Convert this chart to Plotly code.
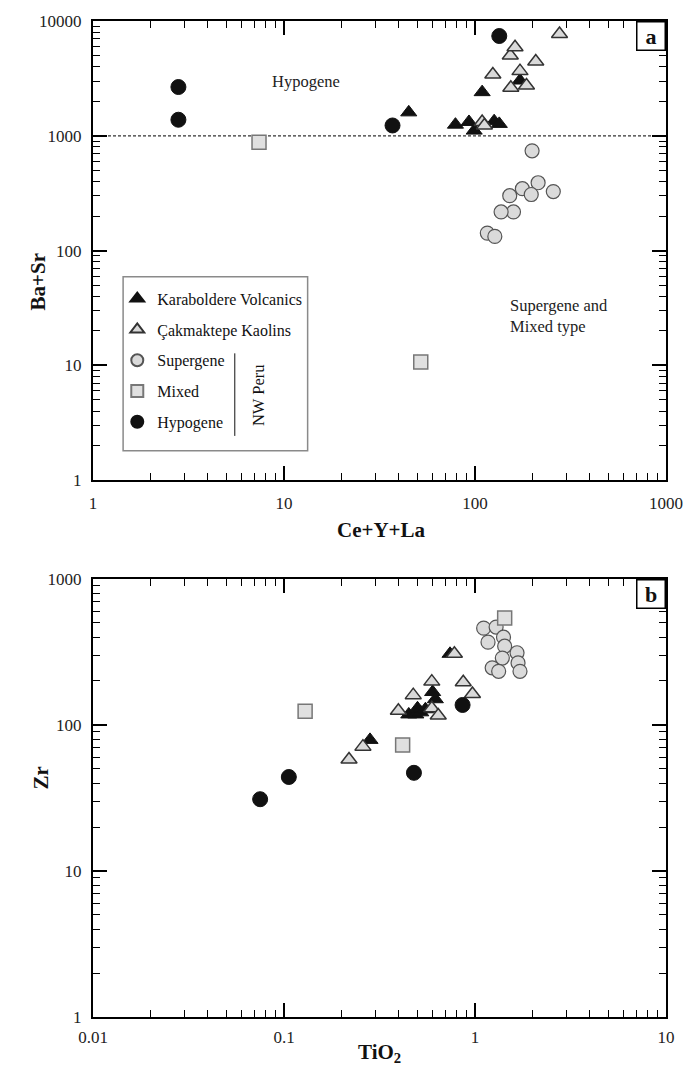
import math
import plotly.graph_objects as go

# ---------------- data ----------------
# Panel a: Ce+Y+La (x) vs Ba+Sr (y)
kara_a_x = [45, 79, 93, 99, 109, 126, 134, 172]
kara_a_y = [1600, 1250, 1320, 1110, 2400, 1340, 1270, 3030]
cak_a_x = [109, 112, 124, 153, 154, 162, 172, 186, 208, 277]
cak_a_y = [1320, 1230, 3420, 5000, 2620, 5900, 3660, 2740, 4440, 7700]
sup_a_x = [199, 214, 257, 177, 197, 152, 159, 137, 116, 127]
sup_a_y = [740, 390, 327, 346, 308, 301, 217, 217, 142, 133]
mix_a_x = [7.4, 52]
mix_a_y = [880, 10.7]
hyp_a_x = [2.8, 2.8, 37, 134]
hyp_a_y = [2660, 1380, 1230, 7400]

# Panel b: TiO2 (x) vs Zr (y)
kara_b_x = [0.282, 0.74, 0.45, 0.49, 0.52, 0.50, 0.55, 0.60, 0.62]
kara_b_y = [79, 307, 118, 118, 122, 130, 128, 168, 150]
cak_b_x = [0.219, 0.259, 0.397, 0.475, 0.594, 0.594, 0.642, 0.78, 0.868, 0.97]
cak_b_y = [58, 71, 125, 160, 198, 130, 116, 307, 196, 163]
sup_b_x = [1.11, 1.29, 1.41, 1.17, 1.43, 1.66, 1.39, 1.68, 1.23, 1.33, 1.72]
sup_b_y = [460, 468, 399, 369, 346, 312, 287, 266, 246, 233, 233]
mix_b_x = [0.129, 0.418, 1.43]
mix_b_y = [124, 73, 540]
hyp_b_x = [0.075, 0.106, 0.479, 0.861]
hyp_b_y = [31, 44, 47, 137]

# Hypogene / supergene boundary in panel a
boundary_x = [1, 1000]
boundary_y = [1000, 1000]

# Axis ticks
a_xticks = [1, 10, 100, 1000]
a_xlabels = ["1", "10", "100", "1000"]
a_yticks = [1, 10, 100, 1000, 10000]
a_ylabels = ["1", "10", "100", "1000", "10000"]
b_xticks = [0.01, 0.1, 1, 10]
b_xlabels = ["0.01", "0.1", "1", "10"]
b_yticks = [1, 10, 100, 1000]
b_ylabels = ["1", "10", "100", "1000"]

FONT = "'Liberation Serif', 'Times New Roman', Times, serif"

# ---------------- figure geometry ----------------
W, H = 695, 1078
ML, MR, MT, MB = 93, 12, 16, 61
PW, PH = W - ML - MR, H - MT - MB


def paper(px, py):
    """Convert a page pixel position to paper coordinates."""
    return (px - ML) / PW, (H - MB - py) / PH


def log_minor(lo_exp, hi_exp):
    """Intermediate 2..9 ticks for each decade of a log axis."""
    return [m * 10.0 ** e for e in range(lo_exp, hi_exp) for m in range(2, 10)]


styles = {
    "Karaboldere Volcanics": dict(symbol="triangle-up", size=14, color="#111111",
                                  line=dict(color="#111111", width=1)),
    "Çakmaktepe Kaolins": dict(symbol="triangle-up", size=14, color="#d9d9d9",
                               line=dict(color="#333333", width=1.5)),
    "Supergene": dict(symbol="circle", size=14, color="#dadada",
                      line=dict(color="#555555", width=1.2)),
    "Mixed": dict(symbol="square", size=14, color="#e0e0e0",
                  line=dict(color="#777777", width=1.5)),
    "Hypogene": dict(symbol="circle", size=15, color="#111111",
                     line=dict(color="#111111", width=1)),
}

series = [
    ("Karaboldere Volcanics", kara_a_x, kara_a_y, kara_b_x, kara_b_y),
    ("Çakmaktepe Kaolins", cak_a_x, cak_a_y, cak_b_x, cak_b_y),
    ("Supergene", sup_a_x, sup_a_y, sup_b_x, sup_b_y),
    ("Mixed", mix_a_x, mix_a_y, mix_b_x, mix_b_y),
    ("Hypogene", hyp_a_x, hyp_a_y, hyp_b_x, hyp_b_y),
]

fig = go.Figure()

fig.add_trace(go.Scatter(
    x=boundary_x, y=boundary_y, mode="lines", xaxis="x", yaxis="y",
    line=dict(color="#333333", width=1.2, dash="3px,2px"),
    showlegend=False, hoverinfo="skip",
))

for rank, (name, ax, ay, bx, by) in enumerate(series, start=1):
    st = styles[name]
    fig.add_trace(go.Scatter(
        x=ax, y=ay, mode="markers", name=name, xaxis="x", yaxis="y",
        marker=st, legendgroup=name, legendrank=rank, showlegend=True,
    ))
    fig.add_trace(go.Scatter(
        x=bx, y=by, mode="markers", name=name, xaxis="x2", yaxis="y2",
        marker=st, legendgroup=name, legendrank=rank, showlegend=False,
    ))

axis_style = dict(
    type="log", showline=True, linecolor="black", linewidth=2,
    mirror="allticks", ticks="inside", ticklen=14, tickwidth=1.6,
    tickcolor="black", showgrid=False, zeroline=False,
    tickfont=dict(family=FONT, size=17, color="#222"),
)


def minor(lo_exp, hi_exp):
    return dict(tickmode="array", tickvals=log_minor(lo_exp, hi_exp),
                ticks="inside", ticklen=7, tickwidth=1.4, tickcolor="black",
                showgrid=False)


pa_bottom = paper(0, 477.5)[1]
pb_top = paper(0, 576.7)[1]

fig.update_layout(
    width=W, height=H,
    margin=dict(l=ML, r=MR, t=MT, b=MB),
    paper_bgcolor="white", plot_bgcolor="white",
    font=dict(family=FONT, color="#111"),
    xaxis=dict(axis_style, domain=[0, 1], anchor="y", range=[0, 3],
               tickmode="array", tickvals=a_xticks, ticktext=a_xlabels,
               ticklabelstandoff=6, minor=minor(0, 3)),
    yaxis=dict(axis_style, domain=[pa_bottom, 1], anchor="x", range=[0, 4],
               tickmode="array", tickvals=a_yticks, ticktext=a_ylabels,
               ticklabelstandoff=6, minor=minor(0, 4)),
    xaxis2=dict(axis_style, domain=[0, 1], anchor="y2", range=[-2, 1],
                tickmode="array", tickvals=b_xticks, ticktext=b_xlabels,
                ticklabelstandoff=4, minor=minor(-2, 1)),
    yaxis2=dict(axis_style, domain=[0, pb_top], anchor="x2", range=[0, 3],
                tickmode="array", tickvals=b_yticks, ticktext=b_ylabels,
                ticklabelstandoff=6, minor=minor(0, 3)),
    showlegend=True,
    legend=dict(
        x=paper(118, 0)[0], y=paper(0, 278)[1], xanchor="left", yanchor="top",
        bgcolor="rgba(0,0,0,0)", borderwidth=0,
        font=dict(family=FONT, size=16, color="#111"),
        traceorder="grouped", tracegroupgap=7, itemsizing="constant",
    ),
)

annotations = []

# Axis titles
for text, (px, py), angle in [
    ("<b>Ba+Sr</b>", (22, 248), -90),
    ("<b>Ce+Y+La</b>", (390, 528), 0),
    ("<b>Zr</b>", (25, 790), -90),
    ("<b>TiO<sub>2</sub></b>", (388, 1068), 0),
]:
    x, y = paper(px, py)
    annotations.append(dict(text=text, x=x, y=y, xref="paper", yref="paper",
                            showarrow=False, textangle=angle,
                            font=dict(family=FONT, size=21, color="#111")))

# Field labels in panel a
annotations.append(dict(text="Hypogene", x=math.log10(13), y=math.log10(2990),
                        xref="x", yref="y", showarrow=False,
                        font=dict(family=FONT, size=16.5, color="#222")))
annotations.append(dict(text="Supergene and<br>Mixed type", x=math.log10(148),
                        y=math.log10(27), xref="x", yref="y", showarrow=False,
                        xanchor="left", align="left",
                        font=dict(family=FONT, size=16.5, color="#222")))

# Panel letters
for letter, xr, yr in [("a", "x domain", "y domain"), ("b", "x2 domain", "y2 domain")]:
    annotations.append(dict(text=f"<b>{letter}</b>", x=1, y=1, xref=xr, yref=yr,
                            xanchor="right", yanchor="top", showarrow=False,
                            width=27, height=27, borderpad=0,
                            bordercolor="black", borderwidth=1.5, bgcolor="white",
                            font=dict(family=FONT, size=22, color="#111")))

# Legend bracket label
x, y = paper(251, 392)
annotations.append(dict(text="NW Peru", x=x, y=y, xref="paper", yref="paper",
                        showarrow=False, textangle=-90,
                        font=dict(family=FONT, size=16.5, color="#111")))

shapes = []
x0, y0 = paper(124, 273)
x1, y1 = paper(314, 448)
shapes.append(dict(type="rect", xref="paper", yref="paper", x0=x0, y0=y0, x1=x1, y1=y1,
                   line=dict(color="#8a8a8a", width=1.5), layer="below"))
x0, y0 = paper(239, 350)
x1, y1 = paper(239, 433)
shapes.append(dict(type="line", xref="paper", yref="paper", x0=x0, y0=y0, x1=x1, y1=y1,
                   line=dict(color="#111", width=1)))

fig.update_layout(annotations=annotations, shapes=shapes)

fig.write_html("out.html")
